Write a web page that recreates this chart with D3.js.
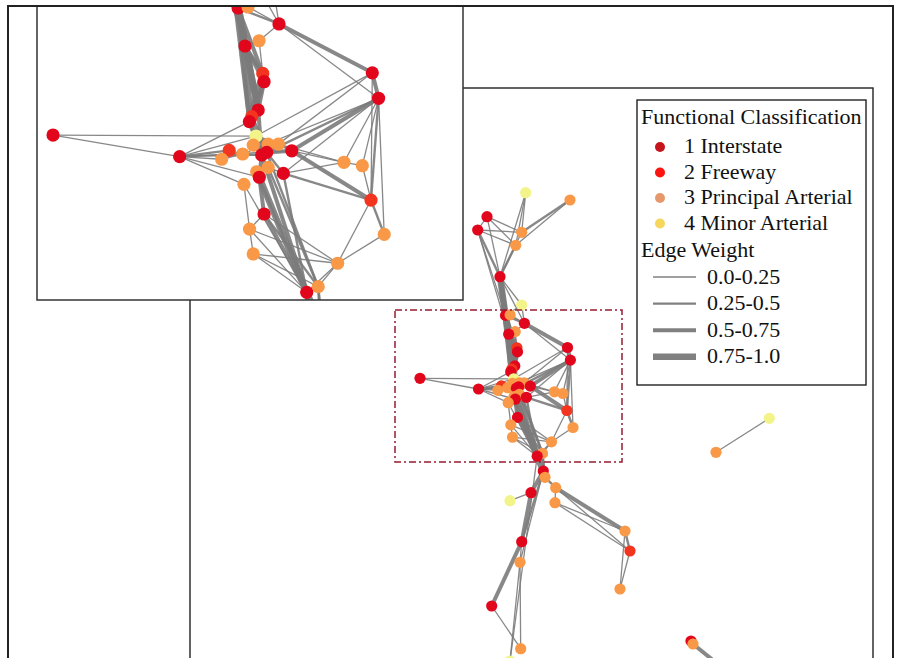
<!DOCTYPE html>
<html>
<head>
<meta charset="utf-8">
<script src="https://cdn.jsdelivr.net/npm/d3@7"></script>
<style>
  body { margin: 0; background: #fff; }
  svg { display: block; font-family: "Liberation Serif", "Times New Roman", serif; }
</style>
</head>
<body>
<svg id="chart" width="900" height="658"></svg>
<script>
// functional classes (legend order)
var classNames = ["1 Interstate", "2 Freeway", "3 Principal Arterial", "4 Minor Arterial"];
var weightBins = ["0.0-0.25", "0.25-0.5", "0.5-0.75", "0.75-1.0"];

// nodes: id, functional class, layout x, layout y
var nodes = [
  // upper branch
  ["m1",4,335.7,104.7],["m2",3,380,112],["m3",1,297,128.7],["m4",1,287.7,142],
  ["m5",3,331.7,144.3],["m6",3,325.7,157.3],["m7",1,310,188.7],["m8",4,331.7,217],
  // core (detail view)
  ["c1",1,315.5,227.4],["c2",3,320.1,226.9],["c3",1,334.4,235.3],["c4",3,325.2,243.6],
  ["c5",1,318.7,246.2],["c6",2,326.9,259.8],["c7",1,327.5,263.9],["c8",1,377.5,259.5],
  ["c9",1,380.4,272.1],["c10",1,324.8,277.9],["c11",2,321.8,281.2],["c12",1,320.7,283.7],
  ["c13",4,323.8,290.8],["c14",3,322.5,295.3],["c15",3,329.4,294.8],["c16",3,334.1,294.8],
  ["c17",2,311.4,297.9],["c18",3,307.9,302.3],["c19",3,317.6,299.7],["c20",1,326.4,300.2],
  ["c21",1,328.7,298.9],["c22",1,340.3,298.1],["c23",3,324.1,308.5],["c24",3,329.4,306.3],
  ["c25",1,325.3,311.2],["c26",1,336.4,309.3],["c27",3,318.2,314.7],["c28",3,364.4,303.8],
  ["c29",3,372.9,305.5],["c30",2,376.9,322.5],["c31",1,327.5,329.4],["c32",3,320.8,336.9],
  ["c33",3,383,339.5],["c34",3,322.5,349.2],["c35",3,361.5,353.8],["c36",3,352.5,365.4],
  ["c37",1,347.2,368.2],["c38",1,230,290.3],["c39",1,288.5,301],
  // lower branch
  ["m9",1,353.3,383],["m10",3,355,389.3],["m11",3,365.7,399.7],["m12",1,341,404.7],
  ["m13",4,320,412.7],["m14",3,365,414.7],["m15",3,435,443],["m16",2,440,463],
  ["m17",3,430,501],["m18",1,331.7,453.7],["m19",3,330,474.3],["m20",1,301.7,518],
  ["m21",3,330.7,560.7],["m22",4,320,573],["m23",4,579.3,330.3],["m24",3,526,364.3],
  ["m25",1,501,553],["m26",3,503,556],["m27",3,545,590]
];

// edges: source, target, weight
var edges = [
  ["m1","m5",0.2],["m1","m6",0.2],["m1","m7",0.1],["m2","m5",0.3],["m2","m6",0.2],
  ["m3","m4",0.2],["m3","m5",0.2],["m3","m6",0.2],["m4","m5",0.2],["m4","m6",0.2],
  ["m3","m7",0.2],["m4","m7",0.45],["m4","c1",0.15],["m4","c5",0.1],
  ["m5","m7",0.2],["m6","m7",0.3],
  ["m7","c1",0.8],["m7","c5",0.7],["m7","c10",0.6],["m7","c3",0.2],["m7","c12",0.5],
  ["m8","m7",0.1],["m8","c1",0.2],["m8","c3",0.2],
  ["c1","c2",0.2],["c2","c3",0.2],["c1","c3",0.3],["c3","c4",0.2],["c4","c5",0.3],["c4","c6",0.2],
  ["c1","c5",0.9],["c1","c10",0.8],["c5","c10",0.8],["c5","c6",0.6],["c1","c6",0.5],
  ["c5","c7",0.6],["c6","c7",0.6],["c6","c12",0.8],["c7","c10",0.7],["c10","c12",0.8],["c1","c12",0.7],
  ["c5","c11",0.7],["c7","c11",0.5],
  ["c3","c8",0.7],["c3","c9",0.15],["c8","c9",0.5],["c9","c22",0.7],["c9","c21",0.3],
  ["c8","c13",0.15],["c8","c16",0.15],["c9","c19",0.15],["c9","c26",0.2],
  ["c9","c28",0.2],["c9","c29",0.2],["c9","c30",0.3],["c9","c33",0.15],["c8","c30",0.15],
  ["c22","c28",0.2],["c22","c30",0.5],["c26","c30",0.3],["c28","c29",0.2],["c29","c30",0.2],
  ["c30","c33",0.3],["c30","c35",0.2],["c33","c35",0.2],["c35","c36",0.2],["c35","c37",0.15],
  ["c34","c35",0.15],["c32","c35",0.15],["c31","c35",0.2],
  ["c38","c39",0.2],["c38","c13",0.15],
  ["c39","c17",0.3],["c39","c18",0.2],["c39","c19",0.2],["c39","c20",0.2],["c39","c12",0.15],
  ["c39","c13",0.15],["c39","c22",0.2],["c39","c25",0.2],["c39","c27",0.15],
  ["c12","c13",0.5],["c13","c14",0.3],["c13","c15",0.3],["c13","c16",0.3],["c14","c20",0.3],
  ["c15","c21",0.3],["c16","c22",0.4],
  ["c17","c19",0.2],["c18","c19",0.2],["c19","c20",0.3],["c20","c21",0.5],["c21","c22",0.5],
  ["c20","c25",0.6],["c21","c26",0.4],
  ["c23","c25",0.2],["c24","c26",0.2],["c25","c31",0.7],["c27","c32",0.2],["c32","c34",0.2],["c31","c32",0.2],
  ["c16","c28",0.2],["c26","c28",0.2],
  ["c12","c20",0.7],["c11","c21",0.6],["c10","c20",0.6],["c7","c12",0.5],
  ["c25","c37",0.8],["c31","c37",0.7],["c20","c37",0.5],["c26","c37",0.4],["c21","c36",0.3],
  ["c27","c37",0.2],["c32","c37",0.2],["c34","c37",0.2],["c34","c36",0.2],["c31","c36",0.3],
  ["c23","c37",0.3],["c24","c36",0.3],
  ["c37","m9",0.8],["c36","m9",0.3],["c36","m10",0.3],["m9","m10",0.2],["m10","m11",0.3],
  ["m9","m12",0.7],["m12","m13",0.2],["m12","m18",0.7],["m9","m18",0.3],
  ["m11","m15",0.5],["m14","m15",0.2],["m11","m14",0.2],["m11","m16",0.2],["m14","m16",0.15],
  ["m15","m16",0.3],["m16","m17",0.2],["m15","m17",0.2],
  ["m18","m19",0.2],["m18","m20",0.6],["m19","m21",0.2],["m20","m21",0.2],["m19","m22",0.15],
  ["m9","m19",0.2],["c37","m22",0.15],
  ["m23","m24",0.2],["m25","m26",0.2],["m26","m27",0.6]
];

// area shown in the detail inset (layout units)
var focusBox = {x0: 205, x1: 432, y0: 222, y1: 374};

var nodeColor = d3.scaleOrdinal().domain([1,2,3,4]).range(["#e2061c","#f3341e","#f99846","#f2f48a"]);
var legendColor = d3.scaleOrdinal().domain([1,2,3,4]).range(["#c4141c","#fb1410","#e6986c","#f6d65c"]);
var edgeWidth = d3.scaleThreshold().domain([0.25,0.5,0.75]).range([1.3,2.4,4,6.5]);

var byId = {};
nodes = nodes.map(function(n){
  var o = {id:n[0], cls:n[1], x:n[2], y:n[3]};
  byId[o.id] = o;
  return o;
});
edges = edges.map(function(e){ return {s:byId[e[0]], t:byId[e[1]], w:e[2]}; });

var svg = d3.select("#chart");

// main view scales
var xMain = d3.scaleLinear().domain([0, 683]).range([190, 873]);
var yMain = d3.scaleLinear().domain([0, 570]).range([88, 658]);
// inset scales
var xInset = d3.scaleLinear().domain([222.6, 419.4]).range([37, 463]);
var yInset = d3.scaleLinear().domain([226.4, 372]).range([6, 300]);

var defs = svg.append("defs");
defs.append("clipPath").attr("id","clipMain").append("rect")
  .attr("x",190).attr("y",88).attr("width",683).attr("height",580);
defs.append("clipPath").attr("id","clipInset").append("rect")
  .attr("x",37).attr("y",6).attr("width",426).attr("height",294);

// outer frame
svg.append("rect").attr("x",8).attr("y",6).attr("width",885).attr("height",670)
  .attr("fill","#fff").attr("stroke","#222").attr("stroke-width",2);

// inner (main) frame
svg.append("rect").attr("x",190).attr("y",88).attr("width",683).attr("height",600)
  .attr("fill","#fff").attr("stroke","#222").attr("stroke-width",1.4);

function drawNetwork(g, xs, ys, r) {
  g.selectAll("line").data(edges).join("line")
    .attr("x1", function(d){ return xs(d.s.x); })
    .attr("y1", function(d){ return ys(d.s.y); })
    .attr("x2", function(d){ return xs(d.t.x); })
    .attr("y2", function(d){ return ys(d.t.y); })
    .attr("stroke", "#7b7b7b")
    .attr("stroke-opacity", 0.9)
    .attr("stroke-width", function(d){ return edgeWidth(d.w); });
  g.selectAll("circle").data(nodes).join("circle")
    .attr("cx", function(d){ return xs(d.x); })
    .attr("cy", function(d){ return ys(d.y); })
    .attr("r", r)
    .attr("fill", function(d){ return nodeColor(d.cls); });
}

var gMain = svg.append("g").attr("clip-path","url(#clipMain)");
drawNetwork(gMain, xMain, yMain, 5.6);

// dash-dot focus box
svg.append("rect")
  .attr("x", xMain(focusBox.x0)).attr("y", yMain(focusBox.y0))
  .attr("width", xMain(focusBox.x1) - xMain(focusBox.x0))
  .attr("height", yMain(focusBox.y1) - yMain(focusBox.y0))
  .attr("fill","none").attr("stroke","#961c30").attr("stroke-width",1.5)
  .attr("stroke-dasharray","7,3,2,3");

// inset
svg.append("rect").attr("x",37).attr("y",6).attr("width",426).attr("height",294)
  .attr("fill","#fff");
var gInset = svg.append("g").attr("clip-path","url(#clipInset)");
drawNetwork(gInset, xInset, yInset, 6.6);
svg.append("rect").attr("x",37).attr("y",6).attr("width",426).attr("height",294)
  .attr("fill","none").attr("stroke","#333").attr("stroke-width",1.5);
// redraw outer top edge over inset
svg.append("line").attr("x1",8).attr("x2",893).attr("y1",6).attr("y2",6)
  .attr("stroke","#222").attr("stroke-width",2);

// legend
var fs = 22;
var lg = svg.append("g");
lg.append("rect").attr("x",637).attr("y",100).attr("width",229).attr("height",285)
  .attr("fill","#fff").attr("stroke","#222").attr("stroke-width",1.4);
lg.append("text").attr("x",641).attr("y",124).attr("font-size",fs).attr("fill","#111")
  .text("Functional Classification");
classNames.forEach(function(name, i){
  var y = 147 + i*25.5;
  lg.append("circle").attr("cx",660).attr("cy",y).attr("r",5).attr("fill",legendColor(i+1));
  lg.append("text").attr("x",684).attr("y",y+6).attr("font-size",fs).attr("fill","#111").text(name);
});
lg.append("text").attr("x",641).attr("y",257).attr("font-size",fs).attr("fill","#111")
  .text("Edge Weight");
weightBins.forEach(function(name, i){
  var y = 277 + i*26.6;
  lg.append("line").attr("x1",653).attr("x2",696).attr("y1",y).attr("y2",y)
    .attr("stroke","#808080").attr("stroke-width",edgeWidth(0.125 + i*0.25));
  lg.append("text").attr("x",707).attr("y",y+6.5).attr("font-size",fs).attr("fill","#111").text(name);
});
</script>
</body>
</html>
